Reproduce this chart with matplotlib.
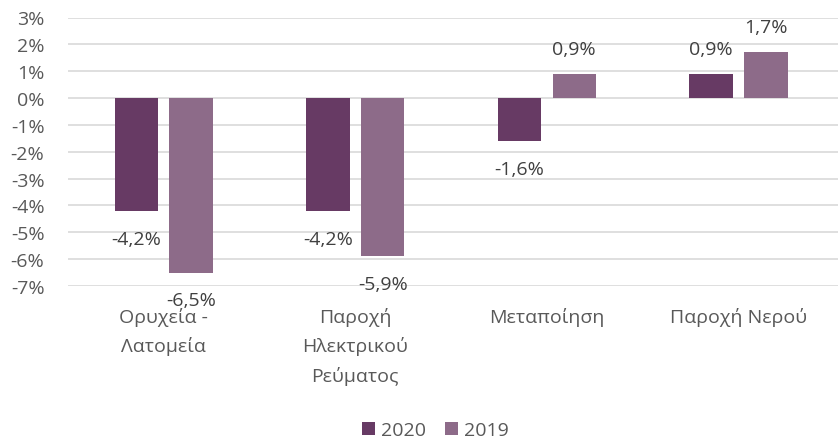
import numpy as np
import matplotlib
matplotlib.use("Agg")
import matplotlib.pyplot as plt

# data (percent change)
categories = ["Ορυχεία -\nΛατομεία", "Παροχή\nΗλεκτρικού\nΡεύματος", "Μεταποίηση", "Παροχή Νερού"]
values_2020 = [-4.2, -4.2, -1.6, 0.9]
values_2019 = [-6.5, -5.9, 0.9, 1.7]
series_names = ["2020", "2019"]
yticks = list(range(-7, 4))

dark = "#673A64"
light = "#8D6B89"
text_col = "#595959"
grid_col = "#D9D9D9"

plt.rcParams["font.family"] = ["Open Sans", "DejaVu Sans"]
fs = 14

fig = plt.figure(figsize=(8.38, 4.39), dpi=100)
ax = fig.add_axes([68 / 838, 1 - 287 / 439, 1 - 68 / 838, (287 - 18.5) / 439])

x = np.arange(len(categories))
w = 0.227
off = 0.143
b1 = ax.bar(x - off, values_2020, w, color=dark, label=series_names[0], zorder=3)
b2 = ax.bar(x + off, values_2019, w, color=light, label=series_names[1], zorder=3)

def fmt(v):
    return f"{v:.1f}".replace(".", ",") + "%"

# data labels outside the bar ends
for bars, vals in [(b1, values_2020), (b2, values_2019)]:
    for rect, v in zip(bars, vals):
        cx = rect.get_x() + rect.get_width() / 2
        dy = 18 if v >= 0 else -20
        ax.annotate(fmt(v), (cx, v), xytext=(0, dy), textcoords="offset points",
                    ha="center", va="center", fontsize=fs, color="#404040", zorder=4)

ax.set_ylim(-7, 3)
ax.set_xlim(-0.5, 3.52)
ax.set_yticks(yticks)
ax.set_yticklabels([f"{t}%" for t in yticks])
ax.yaxis.grid(True, color=grid_col, linewidth=1.2, zorder=0)
ax.tick_params(axis="y", length=0, pad=17, labelsize=fs, labelcolor=text_col)
ax.set_xticks(x)
ax.set_xticklabels(categories, linespacing=1.7)
ax.tick_params(axis="x", length=0, pad=15, labelsize=fs, labelcolor=text_col)
for s in ax.spines.values():
    s.set_visible(False)

fig.legend(loc="center", bbox_to_anchor=(435.5 / 838, 1 - 431 / 439), ncol=2, frameon=False,
           fontsize=fs, labelcolor=text_col, handlelength=0.65, handleheight=0.65,
           handletextpad=0.3, columnspacing=1.0)

fig.savefig("out.png", dpi=100)
